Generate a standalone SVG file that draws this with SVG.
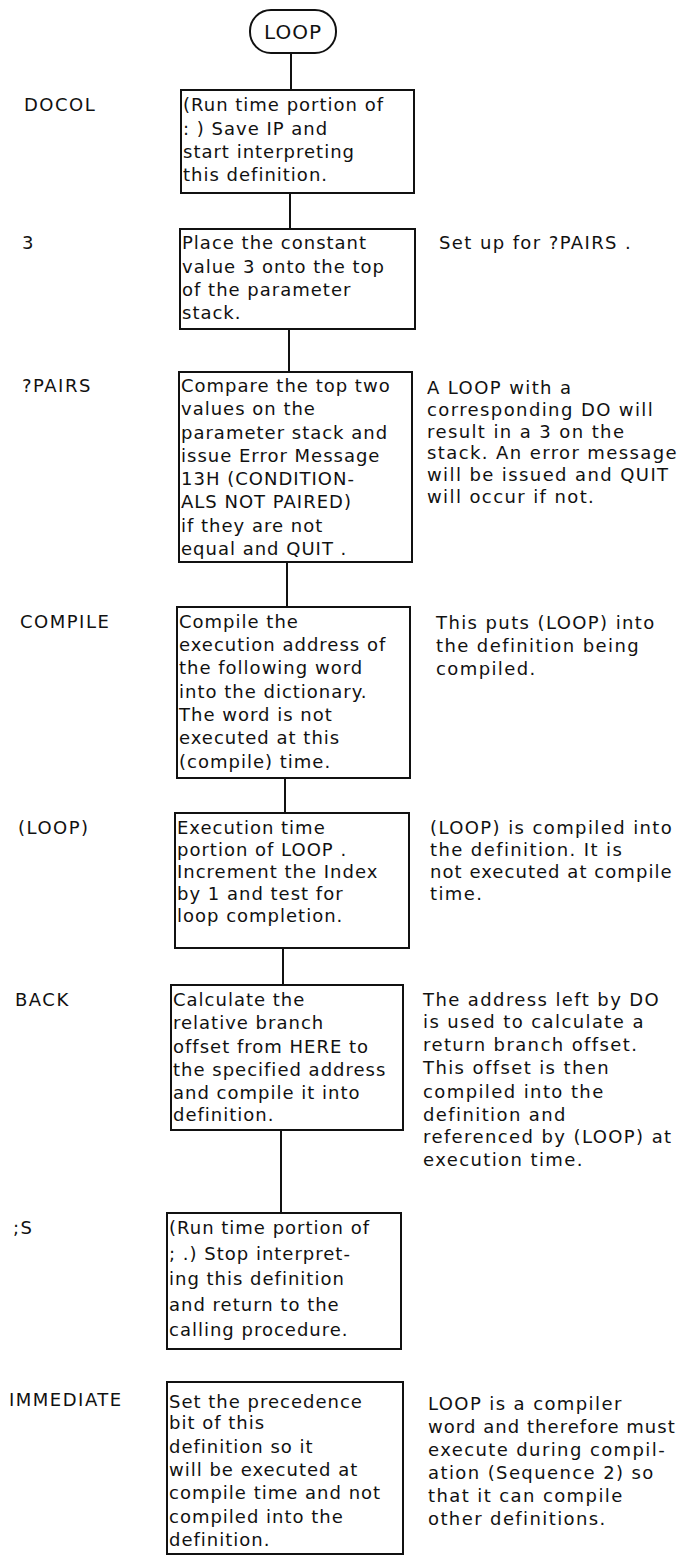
<svg xmlns="http://www.w3.org/2000/svg" width="684" height="1556" viewBox="0 0 684 1556">
<style>
text{font-family:"DejaVu Sans","Liberation Sans",sans-serif;font-size:18px;letter-spacing:1px;fill:#111}
.lbl{letter-spacing:1.5px}
.note{letter-spacing:1.4px}
.tight{letter-spacing:1.05px}
.box{fill:#fff;stroke:#111;stroke-width:2}
.con line{stroke:#111;stroke-width:2}
</style>
<rect width="684" height="1556" fill="#fff"/>
<g id="connectors" class="con">
<line x1="291" y1="53" x2="291" y2="90"/>
<line x1="290" y1="193" x2="290" y2="229"/>
<line x1="289" y1="329" x2="289" y2="372"/>
<line x1="287" y1="562" x2="287" y2="607"/>
<line x1="285" y1="778" x2="285" y2="813"/>
<line x1="283" y1="948" x2="283" y2="985"/>
<line x1="281" y1="1130" x2="281" y2="1213"/>
</g>
<g id="start">
<rect class="box" x="250" y="10" width="86" height="43" rx="21" ry="21"/>
<text x="293" y="39" text-anchor="middle" style="font-size:20px">LOOP</text>
</g>
<g id="docol">
<text class="lbl" x="24" y="111">DOCOL</text>
<rect class="box" x="181" y="90" width="233" height="103"/>
<text><tspan x="183" y="111">(Run time portion of</tspan><tspan x="183" y="135">: ) Save IP and</tspan><tspan x="183" y="158">start interpreting</tspan><tspan x="183" y="181">this definition.</tspan></text>
</g>
<g id="three">
<text class="lbl" x="22" y="249">3</text>
<rect class="box" x="180" y="229" width="235" height="100"/>
<text><tspan x="182" y="249">Place the constant</tspan><tspan x="182" y="273">value 3 onto the top</tspan><tspan x="182" y="296">of the parameter</tspan><tspan x="182" y="319">stack.</tspan></text>
<text class="note" x="439" y="249">Set up for ?PAIRS .</text>
</g>
<g id="qpairs">
<text class="lbl" x="22" y="392">?PAIRS</text>
<rect class="box" x="179" y="372" width="233" height="190"/>
<text><tspan x="181" y="392">Compare the top two</tspan><tspan x="181" y="415">values on the</tspan><tspan x="181" y="439">parameter stack and</tspan><tspan x="181" y="462">issue Error Message</tspan><tspan x="181" y="485">13H (CONDITION-</tspan><tspan x="181" y="508">ALS NOT PAIRED)</tspan><tspan x="181" y="532">if they are not</tspan><tspan x="181" y="555">equal and QUIT .</tspan></text>
<text class="note"><tspan x="427" y="394">A LOOP with a</tspan><tspan x="427" y="416">corresponding DO will</tspan><tspan x="427" y="438">result in a 3 on the</tspan><tspan x="427" y="459">stack. An error message</tspan><tspan x="427" y="481">will be issued and QUIT</tspan><tspan x="427" y="503">will occur if not.</tspan></text>
</g>
<g id="compile">
<text class="lbl" x="20" y="628">COMPILE</text>
<rect class="box" x="177" y="607" width="233" height="171"/>
<text><tspan x="179" y="628">Compile the</tspan><tspan x="179" y="651">execution address of</tspan><tspan x="179" y="674">the following word</tspan><tspan x="179" y="698">into the dictionary.</tspan><tspan x="179" y="721">The word is not</tspan><tspan x="179" y="744">executed at this</tspan><tspan x="179" y="768">(compile) time.</tspan></text>
<text class="note"><tspan x="436" y="629">This puts (LOOP) into</tspan><tspan x="436" y="652">the definition being</tspan><tspan x="436" y="675">compiled.</tspan></text>
</g>
<g id="ploop">
<text class="lbl" x="18" y="834">(LOOP)</text>
<rect class="box" x="175" y="813" width="234" height="135"/>
<text><tspan x="177" y="834">Execution time</tspan><tspan x="177" y="856">portion of LOOP .</tspan><tspan x="177" y="878">Increment the Index</tspan><tspan x="177" y="900">by 1 and test for</tspan><tspan x="177" y="922">loop completion.</tspan></text>
<text class="note"><tspan x="430" y="834">(LOOP) is compiled into</tspan><tspan x="430" y="856">the definition. It is</tspan><tspan x="430" y="878" class="tight">not executed at compile</tspan><tspan x="430" y="900">time.</tspan></text>
</g>
<g id="back">
<text class="lbl" x="15" y="1006">BACK</text>
<rect class="box" x="171" y="985" width="232" height="145"/>
<text><tspan x="173" y="1006">Calculate the</tspan><tspan x="173" y="1029">relative branch</tspan><tspan x="173" y="1053">offset from HERE to</tspan><tspan x="173" y="1076">the specified address</tspan><tspan x="173" y="1099">and compile it into</tspan><tspan x="173" y="1121">definition.</tspan></text>
<text class="note"><tspan x="423" y="1006">The address left by DO</tspan><tspan x="423" y="1028">is used to calculate a</tspan><tspan x="423" y="1051">return branch offset.</tspan><tspan x="423" y="1074">This offset is then</tspan><tspan x="423" y="1098">compiled into the</tspan><tspan x="423" y="1121">definition and</tspan><tspan x="423" y="1143">referenced by (LOOP) at</tspan><tspan x="423" y="1166">execution time.</tspan></text>
</g>
<g id="semis">
<text class="lbl" x="13" y="1234">;S</text>
<rect class="box" x="167" y="1213" width="234" height="136"/>
<text><tspan x="169" y="1234">(Run time portion of</tspan><tspan x="169" y="1260">; .) Stop interpret-</tspan><tspan x="169" y="1285">ing this definition</tspan><tspan x="169" y="1311">and return to the</tspan><tspan x="169" y="1336">calling procedure.</tspan></text>
</g>
<g id="immediate">
<text class="lbl" x="9" y="1406">IMMEDIATE</text>
<rect class="box" x="167" y="1382" width="236" height="172"/>
<text><tspan x="169" y="1408">Set the precedence</tspan><tspan x="169" y="1429">bit of this</tspan><tspan x="169" y="1453">definition so it</tspan><tspan x="169" y="1476">will be executed at</tspan><tspan x="169" y="1499">compile time and not</tspan><tspan x="169" y="1523">compiled into the</tspan><tspan x="169" y="1546">definition.</tspan></text>
<text class="note"><tspan x="428" y="1410">LOOP is a compiler</tspan><tspan x="428" y="1433" class="tight">word and therefore must</tspan><tspan x="428" y="1456">execute during compil-</tspan><tspan x="428" y="1479">ation (Sequence 2) so</tspan><tspan x="428" y="1502">that it can compile</tspan><tspan x="428" y="1525">other definitions.</tspan></text>
</g>
</svg>
